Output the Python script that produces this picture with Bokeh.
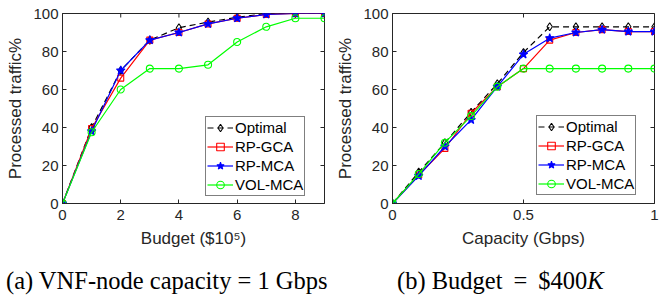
import math
from bokeh.plotting import figure
from bokeh.layouts import row, column
from bokeh.models import Range1d, Legend, LegendItem, FixedTicker, Div
from bokeh.embed import file_html
from bokeh.resources import INLINE

# ---- data (panel a) ----
budget = [0, 1, 2, 3, 4, 5, 6, 7, 8, 9]
a_optimal = [0, 40, 70, 86, 92.5, 95.5, 98, 100, 100, 100]
a_rpgca = [0, 39.5, 66, 86, 90, 94.5, 97.5, 99.5, 100, 100]
a_rpmca = [0, 38, 70, 86, 90, 94.5, 97.5, 99.5, 100, 100]
a_volmca = [0, 37.5, 60, 71, 71, 73, 85, 93, 97.5, 97.5]

# ---- data (panel b) ----
capacity = [0, 0.1, 0.2, 0.3, 0.4, 0.5, 0.6, 0.7, 0.8, 0.9, 1.0]
b_optimal = [0, 16.5, 32, 48, 63, 79.5, 93, 93, 93, 93, 93]
b_rpgca = [0, 15, 29, 47.5, 61.5, 71, 86, 90, 91.5, 90.5, 90.5]
b_rpmca = [0, 14.5, 30, 44, 61.5, 78.5, 87, 90, 91.5, 90.5, 90.5]
b_volmca = [0, 15.5, 32, 46, 61.5, 71, 71, 71, 71, 71, 71]

series_names = ["Optimal", "RP-GCA", "RP-MCA", "VOL-MCA"]
a_x_ticks = [0, 2, 4, 6, 8]
b_x_ticks = [0, 0.5, 1]
b_x_tick_labels = {0: "0", 0.5: "0.5", 1: "1"}
y_ticks = [0, 20, 40, 60, 80, 100]
y_range = (0, 100)

STYLES = [
    dict(color="black", dash="6 4", marker="diamond", size=8, fill=None),
    dict(color="#FF0000", dash="solid", marker="square", size=6, fill=None),
    dict(color="#0000FF", dash="solid", marker="star", size=9, fill="#0000FF"),
    dict(color="#00FF00", dash="solid", marker="circle", size=7, fill=None),
]

AX = "#262626"
SANS = "Liberation Sans"
SERIF = "Liberation Serif"


def panel(x, ys, xr, xticks, xlabel, w, h, borders, legend_loc):
    p = figure(width=w, height=h, output_backend="svg", toolbar_location=None,
               x_range=Range1d(*xr), y_range=Range1d(*y_range),
               min_border_left=borders[0], min_border_right=borders[1],
               min_border_top=borders[2], min_border_bottom=borders[3])
    p.grid.visible = False
    p.outline_line_color = AX
    p.background_fill_color = "white"
    p.border_fill_color = "white"

    for ax in (p.xaxis[0], p.yaxis[0]):
        ax.major_tick_in = 4
        ax.major_tick_out = 0
        ax.minor_tick_in = 0
        ax.minor_tick_out = 0
        ax.axis_line_color = AX
        ax.major_tick_line_color = AX
        ax.major_label_text_color = AX
        ax.major_label_text_font = SANS
        ax.major_label_text_font_size = "15px"
        ax.axis_label_text_font = SANS
        ax.axis_label_text_font_size = "17px"
        ax.axis_label_text_font_style = "normal"
        ax.axis_label_text_color = AX
    p.xaxis[0].ticker = FixedTicker(ticks=xticks)
    p.yaxis[0].ticker = FixedTicker(ticks=y_ticks)
    p.xaxis[0].axis_label = xlabel
    p.yaxis[0].axis_label = "Processed traffic%"
    p.xaxis[0].major_label_standoff = 6
    p.xaxis[0].axis_label_standoff = 6
    p.yaxis[0].major_label_standoff = 4
    p.yaxis[0].axis_label_standoff = 5

    # inward ticks on the top and right edges of the box (clipped to the frame)
    p.scatter(xticks, [y_range[1]] * len(xticks), marker="dash", angle=math.pi / 2,
              size=8, line_color=AX, line_width=1)
    p.scatter([xr[1]] * len(y_ticks), y_ticks, marker="dash",
              size=8, line_color=AX, line_width=1)

    items = []
    for name, yv, st in zip(series_names, ys, STYLES):
        r1 = p.line(x, yv, line_color=st["color"], line_width=1.2, line_dash=st["dash"])
        r2 = p.scatter(x, yv, marker=st["marker"], size=st["size"],
                       line_color=st["color"], line_width=1.1,
                       fill_color=st["fill"])
        items.append(LegendItem(label=name, renderers=[r1, r2]))
    leg = Legend(items=items, location=legend_loc,
                 label_text_font=SANS, label_text_font_size="15px",
                 label_text_color="black",
                 padding=1, spacing=0, margin=0,
                 label_height=19, glyph_height=19, glyph_width=26,
                 label_standoff=2,
                 border_line_color="black", border_line_width=1,
                 background_fill_color="white", background_fill_alpha=1)
    p.add_layout(leg, "center")
    return p


pa = panel(budget, [a_optimal, a_rpgca, a_rpmca, a_volmca], (0, 9), a_x_ticks,
           "Budget ($10\u2075)", 330, 258, (62, 6, 12, 55), (143, 7))
pb = panel(capacity, [b_optimal, b_rpgca, b_rpmca, b_volmca], (0, 1), b_x_ticks,
           "Capacity (Gbps)", 329, 258, (62, 5, 13, 50), (144, 8))
pb.xaxis[0].major_label_overrides = b_x_tick_labels

cap_style = {"font-family": SERIF, "font-size": "24.5px", "color": "black",
             "white-space": "nowrap", "line-height": "26px", "padding-top": "10px"}
cap_a = Div(text="(a) VNF-node capacity = 1 Gbps", width=330, height=36, margin=(0, 0, 0, 0),
            styles=dict(cap_style, **{"padding-left": "6px"}))
cap_b = Div(text="(b) Budget&thinsp; = &thinsp;$400<i>K</i>", width=329, height=36,
            margin=(0, 0, 0, 0),
            styles=dict(cap_style, **{"padding-left": "67px"}))

layout = column(row(pa, pb, spacing=0), row(cap_a, cap_b, spacing=0), spacing=0)
open("out.html", "w").write(file_html(layout, INLINE))
